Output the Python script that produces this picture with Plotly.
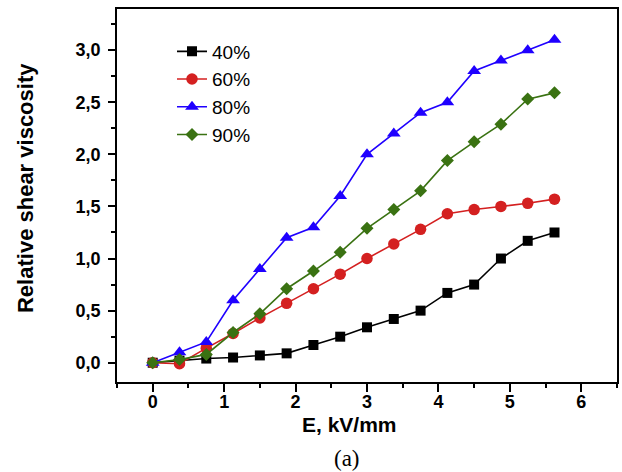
import plotly.graph_objects as go

# Electric field strength, kV/mm
field = [0, 0.375, 0.75, 1.125, 1.5, 1.875, 2.25, 2.625, 3.0, 3.375,
         3.75, 4.125, 4.5, 4.875, 5.25, 5.625]

# Relative shear viscosity for each concentration
visc_40 = [0, 0.02, 0.04, 0.05, 0.07, 0.09, 0.17, 0.25, 0.34, 0.42,
           0.50, 0.67, 0.75, 1.00, 1.17, 1.25]
visc_60 = [0, -0.01, 0.14, 0.28, 0.43, 0.57, 0.71, 0.85, 1.00, 1.14,
           1.28, 1.43, 1.47, 1.50, 1.53, 1.57]
visc_80 = [0, 0.10, 0.20, 0.60, 0.90, 1.20, 1.30, 1.60, 2.00, 2.20,
           2.40, 2.50, 2.80, 2.90, 3.00, 3.10]
visc_90 = [0, 0.03, 0.08, 0.29, 0.47, 0.71, 0.88, 1.06, 1.29, 1.47,
           1.65, 1.94, 2.12, 2.29, 2.53, 2.59]

series = [
    ("40%", visc_40, "#000000", "square", 10),
    ("60%", visc_60, "#d42020", "circle", 11.5),
    ("80%", visc_80, "#1f00ff", "triangle-up", 12),
    ("90%", visc_90, "#3a7212", "diamond", 10),
]

fig = go.Figure()
for name, vals, color, symbol, size in series:
    fig.add_trace(go.Scatter(
        x=field, y=vals, name=name, mode="lines+markers",
        line=dict(color=color, width=1.6),
        marker=dict(symbol=symbol, size=size, color=color,
                    line=dict(width=0)),
    ))

axis_font = dict(family="Liberation Sans", size=18, color="black", weight="bold")
title_font = dict(family="Liberation Sans", size=21, color="black", weight="bold")

fig.update_layout(
    width=622, height=472,
    margin=dict(l=117, r=3, t=9, b=90),
    paper_bgcolor="white", plot_bgcolor="white",
    separators=", ",
    showlegend=True,
    legend=dict(
        x=0.11, y=0.937, xanchor="left", yanchor="top",
        bgcolor="rgba(0,0,0,0)", borderwidth=0,
        font=dict(family="Liberation Sans", size=19, color="black"),
        itemwidth=30,
    ),
    xaxis=dict(
        range=[-0.5, 6.5], tick0=0, dtick=1,
        showgrid=False, zeroline=False,
        showline=True, linecolor="black", linewidth=1.8, mirror=True,
        ticks="outside", ticklen=8, tickwidth=1.6, tickcolor="black",
        minor=dict(ticks="outside", ticklen=4, tickwidth=1.6,
                   tickcolor="black", dtick=0.5, tick0=0, showgrid=False),
        tickfont=axis_font, ticklabelstandoff=-6,
    ),
    yaxis=dict(
        range=[-0.185, 3.395], tick0=0, dtick=0.5, tickformat=".1f",
        showgrid=False, zeroline=False,
        showline=True, linecolor="black", linewidth=1.8, mirror=True,
        ticks="outside", ticklen=7, tickwidth=1.6, tickcolor="black",
        minor=dict(ticks="outside", ticklen=4, tickwidth=1.6,
                   tickcolor="black", dtick=0.25, tick0=0, showgrid=False),
        tickfont=axis_font, ticklabelstandoff=4,
    ),
    annotations=[
        dict(text="Relative shear viscosity", xref="paper", yref="paper",
             x=-0.1833, y=0.521, textangle=-90, showarrow=False,
             xanchor="center", yanchor="middle",
             font=dict(family="Liberation Sans", size=22, color="black",
                       weight="bold")),
        dict(text="E, kV/mm", xref="paper", yref="paper",
             x=0.464, y=-0.1135, showarrow=False,
             xanchor="center", yanchor="middle", font=title_font),
        dict(text="(a)", xref="paper", yref="paper",
             x=0.460, y=-0.2038, showarrow=False,
             xanchor="center", yanchor="middle",
             font=dict(family="Liberation Serif", size=23, color="black")),
    ],
)

fig.write_html("out.html")
